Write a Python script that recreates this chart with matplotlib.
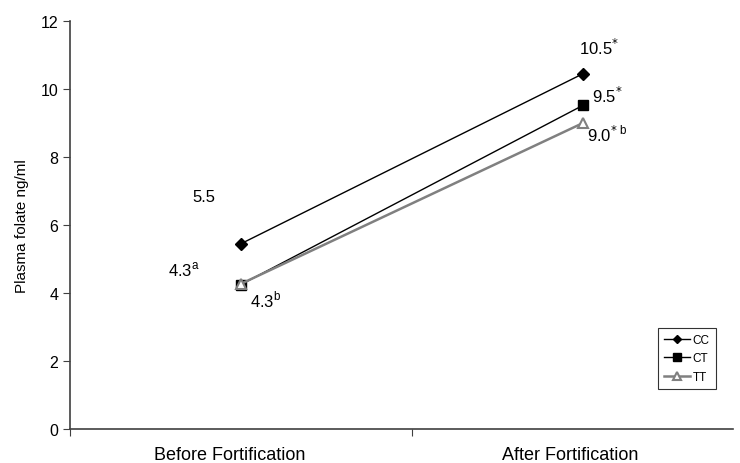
import matplotlib
matplotlib.use("Agg")
import matplotlib.pyplot as plt

plt.rcParams['font.family'] = ['Liberation Sans', 'DejaVu Sans']

# data
periods = ['Before Fortification', 'After Fortification']
cc = [5.45, 10.45]
ct = [4.25, 9.52]
tt = [4.27, 9.0]
yticks = [0, 2, 4, 6, 8, 10, 12]

fig = plt.figure(figsize=(7.4, 4.64), dpi=100)
# category width is 342 px, the right end of the axis falls outside the picture
ax = fig.add_axes([70 / 740, 34 / 464, 684 / 740, 408 / 464])

xs = [0.5, 1.5]
ax.plot(xs, cc, color='black', lw=1, marker='D', ms=6, label='CC', zorder=4)
ax.plot(xs, ct, color='black', lw=1, marker='s', ms=7.5, label='CT', zorder=3)
ax.plot(xs, tt, color='#808080', lw=1.8, marker='^', ms=7.5, mfc='white',
        mec='#808080', mew=1.5, label='TT', zorder=5)

ax.set_xlim(0, 2)
ax.set_ylim(0, 12)
ax.set_yticks(yticks)
ax.set_xticks([0, 1, 2])
ax.set_xticklabels([])
# category labels sit a little left of the data points in the original
ax.set_xticks([0.468, 1.462], minor=True)
ax.set_xticklabels(periods, minor=True, fontsize=13)
ax.tick_params(axis='x', which='minor', length=0, pad=12)
ax.tick_params(axis='x', which='major', length=5, direction='out', color='#404040')
ax.tick_params(axis='y', labelsize=11.5, length=5, color='#404040')
for s in ['top', 'right']:
    ax.spines[s].set_visible(False)
for s in ['left', 'bottom']:
    ax.spines[s].set_color('#404040')
    ax.spines[s].set_linewidth(1.2)
ax.spines['bottom'].set_bounds(0, (733 - 70) / 342)

ax.set_ylabel('Plasma folate ng/ml', fontsize=11, labelpad=8)

# value annotations
fs = 12
ax.text(0.392, 6.85, '5.5', fontsize=fs, ha='center', va='center')
ax.text(0.334, 4.7, '4.3$^{\\mathregular{a}}$', fontsize=fs, ha='center', va='center')
ax.text(0.573, 3.82, '4.3$^{\\mathregular{b}}$', fontsize=fs, ha='center', va='center')
ax.text(1.547, 11.24, '10.5$^{*}$', fontsize=fs, ha='center', va='center')
ax.text(1.570, 9.82, '9.5$^{*}$', fontsize=fs, ha='center', va='center')
ax.text(1.570, 8.68, '9.0$^{*\\ \\mathregular{b}}$', fontsize=fs, ha='center', va='center')

leg = ax.legend(loc='upper left', bbox_to_anchor=(658 / 740, (464 - 329) / 464),
                bbox_transform=fig.transFigure, fontsize=8.5, frameon=True,
                fancybox=False, borderpad=0.5, handlelength=2.2, handletextpad=0.25,
                labelspacing=0.55, borderaxespad=0, markerscale=0.7)
leg.get_frame().set_edgecolor('black')
leg.get_frame().set_linewidth(0.8)

fig.savefig('out.png', dpi=100)
